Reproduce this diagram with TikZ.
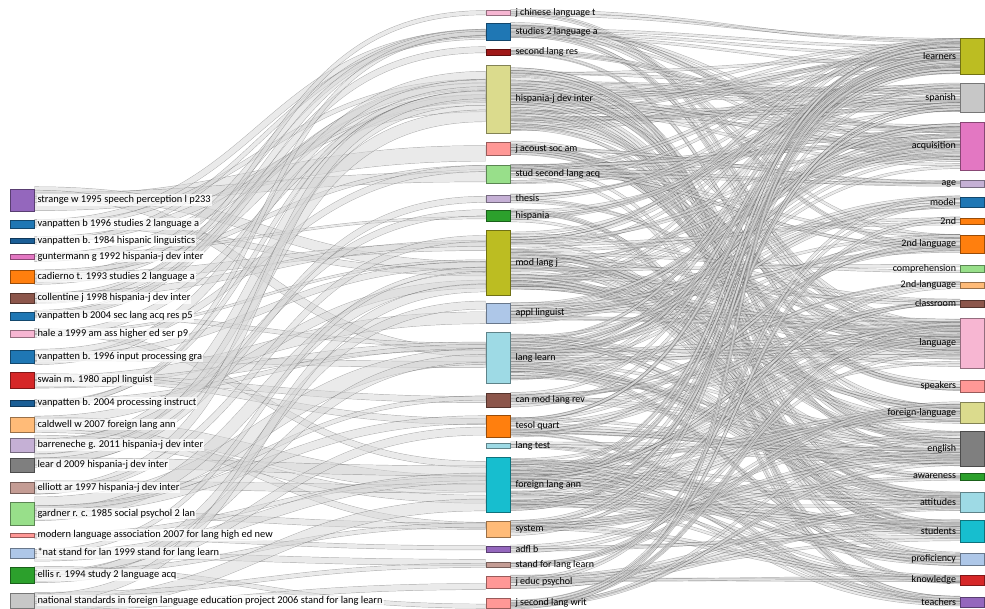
\documentclass[tikz,border=0pt]{standalone}
\usepackage{fontspec}
\setmainfont{Carlito}
\usetikzlibrary{calc}
\pgfdeclarelayer{background}
\pgfsetlayers{background,main}
\definecolor{cpurple}{HTML}{9467BD}
\definecolor{cblue}{HTML}{1F77B4}
\definecolor{cdblue}{HTML}{1A5E96}
\definecolor{cpink}{HTML}{E377C2}
\definecolor{corange}{HTML}{FF7F0E}
\definecolor{cbrown}{HTML}{8C564B}
\definecolor{clpink}{HTML}{F7B6D2}
\definecolor{cred}{HTML}{D62728}
\definecolor{cdred}{HTML}{A01818}
\definecolor{clorange}{HTML}{FFBB78}
\definecolor{clavender}{HTML}{C5B0D5}
\definecolor{cgray}{HTML}{7F7F7F}
\definecolor{crosy}{HTML}{C49C94}
\definecolor{clgreen}{HTML}{98DF8A}
\definecolor{clred}{HTML}{FF9896}
\definecolor{clblue}{HTML}{AEC7E8}
\definecolor{cgreen}{HTML}{2CA02C}
\definecolor{clgray}{HTML}{C7C7C7}
\definecolor{ckhaki}{HTML}{DBDB8D}
\definecolor{colive}{HTML}{BCBD22}
\definecolor{clcyan}{HTML}{9EDAE5}
\definecolor{ccyan}{HTML}{17BECF}

\begin{document}
\begin{tikzpicture}[x=1pt,y=-1pt,
  box/.style={draw=#1!60!black, fill=#1, minimum width=24pt, inner sep=0pt, line width=0.6pt},
  lbl/.style={font=\fontsize{10}{12}\selectfont, text=black, inner sep=1pt},
  lbll/.style={lbl, font=\fontsize{10.4}{12}\selectfont, fill=white, fill opacity=0.75, text opacity=1, label distance=2pt},
  lblm/.style={lbl, label distance=4pt},
  lblr/.style={lbl, label distance=3pt},
  flow/.style={draw=black!65, line width=0.45pt, double=black!16, line cap=butt}]
\useasboundingbox (0,0) rectangle (985,609);
\pgfmathsetseed{11}

% cited references
\foreach \n/\y/\h/\c/\txt in {
  strange/200/22/cpurple/strange w 1995 speech perception l p233,
  vpsla/224/8/cblue/vanpatten b 1996 studies 2 language a,
  vphisp/240.5/5/cdblue/vanpatten b. 1984 hispanic linguistics,
  gunt/256.5/5/cpink/guntermann g 1992 hispania-j dev inter,
  cad/276.5/13/corange/cadierno t. 1993 studies 2 language a,
  coll/298/10/cbrown/collentine j 1998 hispania-j dev inter,
  vpres/316/8/cblue/vanpatten b 2004 sec lang acq res p5,
  hale/333.5/7/clpink/hale a 1999 am ass higher ed ser p9,
  vpinp/356.5/13/cblue/vanpatten b. 1996 input processing gra,
  swain/380/16/cred/swain m. 1980 appl linguist,
  vpproc/403/6/cdblue/vanpatten b. 2004 processing instruct,
  cald/424.5/15/clorange/caldwell w 2007 foreign lang ann,
  barr/445/14/clavender/barreneche g. 2011 hispania-j dev inter,
  lear/465/14/cgray/lear d 2009 hispania-j dev inter,
  elli/487.5/11/crosy/elliott ar 1997 hispania-j dev inter,
  gard/513.5/23/clgreen/gardner r. c. 1985 social psychol 2 lan,
  mla/535/4/clred/modern language association 2007 for lang high ed new,
  nat/553/10/clblue/*nat stand for lan 1999 stand for lang learn,
  ellis/575/16/cgreen/ellis r. 1994 study 2 language acq,
  natstd/600.5/15/clgray/national standards in foreign language education project 2006 stand for lang learn}
  \node[box=\c, minimum height=\h, label={[lbll]right:\txt}] (\n) at (22,\y) {};

% sources
\foreach \n/\y/\h/\c/\txt in {
  jchin/12.5/5/clpink/j chinese language t,
  stud/31.5/17/cblue/studies 2 language a,
  slres/52/6/cdred/second lang res,
  hisj/99/68/ckhaki/hispania-j dev inter,
  jac/148.5/13/clred/j acoust soc am,
  ssla/174/18/clgreen/stud second lang acq,
  thes/198.5/7/clavender/thesis,
  hisp/215.5/11/cgreen/hispania,
  mlj/262.5/65/colive/mod lang j,
  appl/313/20/clblue/appl linguist,
  ll/357.5/51/clcyan/lang learn,
  cmlr/400/14/cbrown/can mod lang rev,
  tesol/426/22/corange/tesol quart,
  ltest/445.5/5/clcyan/lang test,
  fla/484.5/55/ccyan/foreign lang ann,
  sys/529/16/clorange/system,
  adfl/549/6/cpurple/adfl b,
  sfll/564.5/5/crosy/stand for lang learn,
  jep/582/12/clred/j educ psychol,
  jslw/603/10/clred/j second lang writ}
  \node[box=\c, minimum height=\h, label={[lblm]right:\txt}] (\n) at (498,\y) {};

% keywords
\foreach \n/\y/\h/\c/\txt in {
  learn/56/36/colive/learners,
  span/97.5/29/clgray/spanish,
  acq/146/48/cpink/acquisition,
  age/183.5/7/clavender/age,
  model/202/10/cblue/model,
  snd/221/6/corange/2nd,
  sndl/244/18/corange/2nd language,
  comp/268.5/7/clgreen/comprehension,
  sndh/285/6/clorange/2nd-language,
  class/303.5/7/cbrown/classroom,
  lang/343/50/clpink/language,
  speak/386/12/clred/speakers,
  flang/412.5/21/ckhaki/foreign-language,
  eng/448.5/35/cgray/english,
  aware/476.5/7/cgreen/awareness,
  att/502/20/clcyan/attitudes,
  stu/531/22/ccyan/students,
  prof/559/12/clblue/proficiency,
  know/580/10/cred/knowledge,
  teach/602/10/cpurple/teachers}
  \node[box=\c, minimum height=\h, label={[lblr]left:\txt}] (\n) at (972.5,\y) {};

\begin{pgfonlayer}{background}
% references to sources
\foreach \a/\b/\w in {
  strange/jac/8, strange/ssla/5, strange/mlj/5, strange/ll/4,
  vpsla/stud/3, vpsla/hisj/2, vpsla/mlj/3,
  vphisp/hisj/3, vphisp/stud/2,
  gunt/hisj/4, gunt/hisp/1,
  cad/stud/4, cad/mlj/4, cad/hisj/3, cad/ssla/2,
  coll/hisj/5, coll/jchin/2, coll/mlj/3,
  vpres/stud/3, vpres/slres/3, vpres/ll/2,
  hale/hisj/3, hale/fla/3, hale/mlj/1,
  vpinp/hisj/4, vpinp/ssla/3, vpinp/mlj/3, vpinp/ll/3,
  swain/appl/6, swain/ll/4, swain/cmlr/3, swain/tesol/3,
  vpproc/hisj/2, vpproc/ll/2, vpproc/stud/2,
  cald/fla/8, cald/sys/3, cald/mlj/4,
  barr/hisj/7, barr/fla/4, barr/hisp/3,
  lear/hisj/6, lear/fla/5, lear/thes/3,
  elli/hisj/4, elli/mlj/3, elli/fla/4,
  gard/ll/8, gard/mlj/6, gard/tesol/4, gard/sys/3, gard/cmlr/2,
  mla/fla/2, mla/adfl/2,
  nat/fla/5, nat/sfll/3, nat/mlj/2,
  ellis/ll/4, ellis/appl/4, ellis/tesol/4, ellis/jslw/2, ellis/sys/2,
  natstd/fla/6, natstd/sfll/2, natstd/mlj/4, natstd/jep/3}
  {
  \begin{scope}[transparency group, opacity=0.5]
  \draw[flow, double distance=1.9*\w pt]
    let \p1=(\a.north east), \p2=(\a.south east),
        \p3=(\b.north west), \p4=(\b.south west),
        \n1={0.1+0.8*rnd}, \n2={0.1+0.8*rnd} in
    ($(\p1)!\n1!(\p2)$) to[out=0, in=180, looseness=1.2] ($(\p3)!\n2!(\p4)$);
  \end{scope}
  }
% sources to keywords, one strand per unit
\foreach \a/\b/\w in {
  jchin/learn/2, jchin/lang/2,
  stud/acq/5, stud/learn/3, stud/sndl/3, stud/lang/3,
  slres/acq/3, slres/speak/2,
  hisj/span/14, hisj/learn/8, hisj/acq/6, hisj/stu/5, hisj/eng/4, hisj/lang/4,
  hisj/att/3, hisj/prof/3, hisj/flang/3, hisj/teach/2,
  jac/eng/5, jac/speak/4, jac/age/2, jac/lang/2,
  ssla/acq/6, ssla/learn/3, ssla/sndl/3, ssla/age/2, ssla/know/2,
  thes/span/2, thes/lang/2, thes/learn/1,
  hisp/span/4, hisp/stu/2, hisp/teach/2,
  mlj/learn/8, mlj/flang/6, mlj/lang/8, mlj/stu/4, mlj/acq/6, mlj/att/4,
  mlj/class/3, mlj/eng/4, mlj/snd/2, mlj/comp/2,
  appl/acq/5, appl/lang/4, appl/model/3, appl/sndl/3,
  ll/acq/8, ll/learn/5, ll/lang/6, ll/eng/5, ll/att/5, ll/sndl/3, ll/model/3,
  ll/aware/3, ll/prof/3,
  cmlr/lang/3, cmlr/learn/2, cmlr/sndh/2, cmlr/eng/2,
  tesol/eng/6, tesol/learn/3, tesol/sndl/3, tesol/teach/2, tesol/class/2,
  ltest/prof/2, ltest/eng/2,
  fla/stu/8, fla/flang/8, fla/lang/7, fla/learn/6, fla/att/5, fla/span/5,
  fla/teach/3, fla/know/3, fla/class/2, fla/prof/3,
  sys/eng/4, sys/learn/3, sys/sndh/2, sys/aware/2, sys/know/2,
  adfl/flang/2, adfl/stu/2,
  sfll/flang/2, sfll/lang/2,
  jep/stu/3, jep/att/3, jep/model/2, jep/know/2,
  jslw/lang/3, jslw/eng/3, jslw/learn/2, jslw/snd/2}
  \foreach \k in {1,...,\w} {
  \begin{scope}[transparency group, opacity=0.5]
  \draw[flow, double distance=2.2pt]
    let \p1=(\a.north east), \p2=(\a.south east),
        \p3=(\b.north west), \p4=(\b.south west),
        \n1={0.05+0.9*rnd}, \n2={0.05+0.9*rnd} in
    ($(\p1)!\n1!(\p2)$) to[out=0, in=180, looseness=1.2] ($(\p3)!\n2!(\p4)$);
  \end{scope}
  }
\end{pgfonlayer}
\end{tikzpicture}
\end{document}
